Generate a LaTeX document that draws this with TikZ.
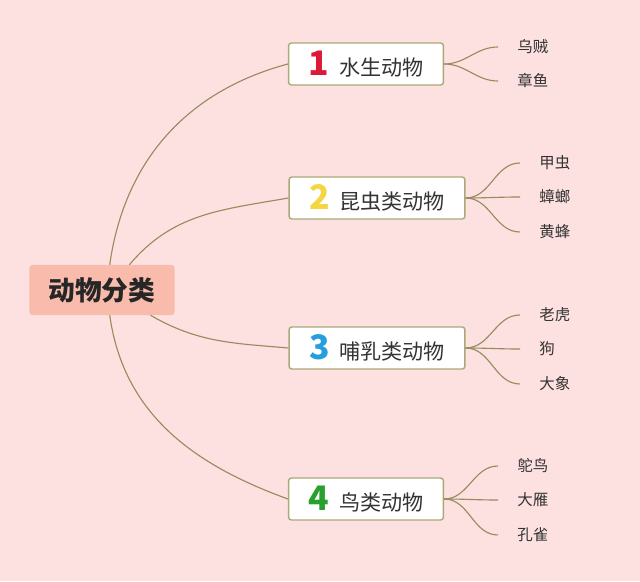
\documentclass[tikz,border=0pt]{standalone}
\usepackage{fontspec}
\setmainfont{Noto Sans CJK SC}
\usetikzlibrary{positioning}

\definecolor{bgpink}{RGB}{253,224,224}
\definecolor{rootfill}{RGB}{249,188,172}
\definecolor{boxline}{RGB}{170,170,120}
\definecolor{linkcol}{RGB}{150,140,95}
\definecolor{numred}{RGB}{220,25,55}
\definecolor{numyellow}{RGB}{244,214,66}
\definecolor{numblue}{RGB}{38,158,222}
\definecolor{numgreen}{RGB}{40,160,45}

\newcommand{\brnum}[2]{{\fontsize{24}{24}\selectfont\bfseries\textcolor{#1}{#2}}\hspace{7pt}}

\begin{document}
\begin{tikzpicture}[
    x=0.025cm, y=0.025cm,
    root/.style={fill=rootfill, rounded corners=2pt, minimum width=3.625cm, minimum height=1.25cm, font=\fontsize{19}{19}\selectfont\bfseries, text=black!85},
    br/.style={draw=boxline, line width=1pt, fill=white, rounded corners=2pt, minimum height=1.05cm, inner xsep=0.5cm, font=\fontsize{15}{15}\selectfont, text=black!80},
    lf/.style={anchor=west, inner xsep=0.48cm, font=\fontsize{11}{11}\selectfont, text=black!80},
    ln/.style={draw=linkcol, line width=0.8pt},
]
    \fill[bgpink] (0,0) rectangle (640,581);
    \useasboundingbox (0,0) rectangle (640,581);

    % centre and main topics
    \node[root] (root) at (102,291) {动物分类};
    \node[br] (b1) at (366,517) {\brnum{numred}{1}水生动物};
    \node[br] (b2) at (377,383) {\brnum{numyellow}{2}昆虫类动物};
    \node[br] (b3) at (377,233) {\brnum{numblue}{3}哺乳类动物};
    \node[br] (b4) at (366,82) {\brnum{numgreen}{4}鸟类动物};

    % leaves
    \node[lf] (l11) at (498,534) {乌贼};
    \node[lf] (l12) at (498,500) {章鱼};
    \node[lf] (l21) at (520,418) {甲虫};
    \node[lf] (l22) at (520,384) {蟑螂};
    \node[lf] (l23) at (520,349) {黄蜂};
    \node[lf] (l31) at (520,266) {老虎};
    \node[lf] (l32) at (520,232) {狗};
    \node[lf] (l33) at (520,197) {大象};
    \node[lf] (l41) at (498,115) {鸵鸟};
    \node[lf] (l42) at (498,81) {大雁};
    \node[lf] (l43) at (498,46) {孔雀};

    % root links
    \draw[ln] ([xshift=5.5]root.north) to[out=82, in=195] (b1.west);
    \draw[ln] ([xshift=19.5]root.north) to[out=50, in=190] (b2.west);
    \draw[ln] ([xshift=34.5]root.south) to[out=-30, in=175] (b3.west);
    \draw[ln] ([xshift=5.5]root.south) to[out=-82, in=160] (b4.west);

    % branch links
    \foreach \b/\l in {b1/l11, b1/l12, b2/l21, b2/l22, b2/l23, b3/l31, b3/l32, b3/l33, b4/l41, b4/l42, b4/l43}
        \draw[ln] (\b.east) to[out=0, in=180] (\l.west);
\end{tikzpicture}
\end{document}
